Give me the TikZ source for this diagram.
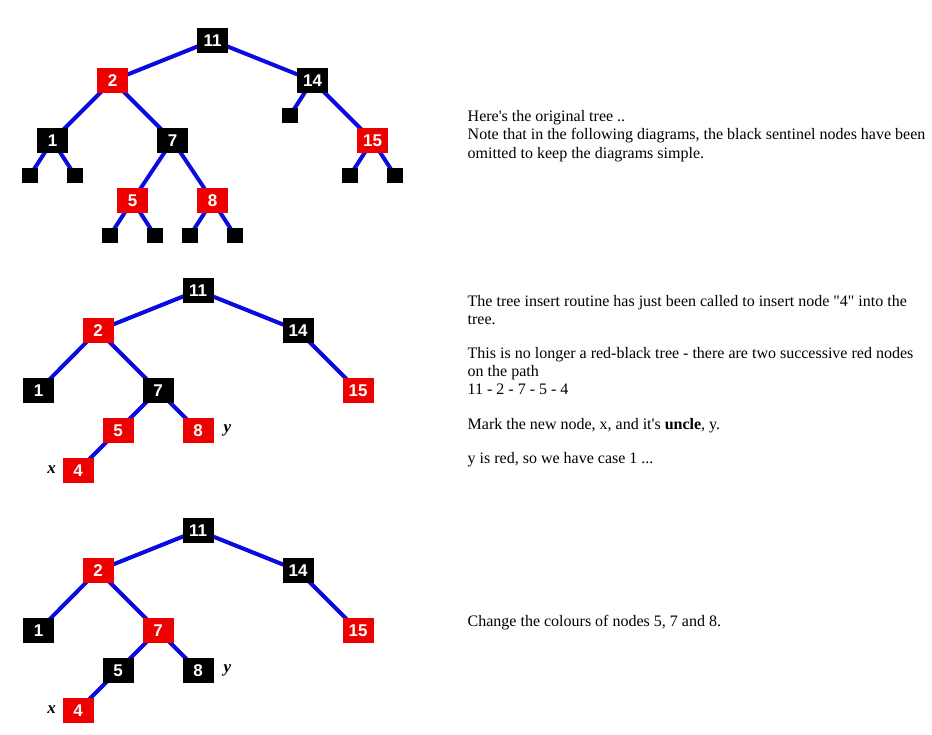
\documentclass[tikz,border=0pt]{standalone}
\usepackage{fontspec}
\setmainfont{Liberation Serif}[Ligatures=TeXOff]
\newfontfamily\numfont{Liberation Sans}
\usetikzlibrary{backgrounds}
\definecolor{rbred}{RGB}{238,0,0}
\definecolor{edgeblue}{RGB}{10,10,225}
\tikzset{
  bn/.style={rectangle, fill=black, text=white, minimum width=31pt, minimum height=25pt, inner sep=0pt, font=\numfont\bfseries\fontsize{17}{17}\selectfont},
  rn/.style={bn, fill=rbred},
  sent/.style={rectangle, fill=black, minimum width=16pt, minimum height=15pt, inner sep=0pt},
  edge/.style={draw=edgeblue, line width=4pt},
  txt/.style={anchor=base west, inner sep=0pt, font=\fontsize{16}{18}\selectfont},
  lbl/.style={anchor=base, inner sep=0pt, font=\bfseries\itshape\fontsize{17}{17}\selectfont}
}
\begin{document}
\begin{tikzpicture}[x=1pt,y=-1pt]
\useasboundingbox (0,0) rectangle (932,735);
% ---------- Tree 1 ----------
\node[bn] (a11) at (212.5,40.5) {11};
\node[rn] (a2)  at (112.5,80.5) {2};
\node[bn] (a14) at (312.5,80.5) {14};
\node[bn] (a1)  at (52.5,140.5) {1};
\node[bn] (a7)  at (172.5,140.5) {7};
\node[rn] (a15) at (372.5,140.5) {15};
\node[rn] (a5)  at (132.5,200.5) {5};
\node[rn] (a8)  at (212.5,200.5) {8};
\node[sent] (s1) at (30,175.5) {};
\node[sent] (s2) at (75,175.5) {};
\node[sent] (s3) at (290,115.5) {};
\node[sent] (s4) at (350,175.5) {};
\node[sent] (s5) at (395,175.5) {};
\node[sent] (s6) at (110,235.5) {};
\node[sent] (s7) at (155,235.5) {};
\node[sent] (s8) at (190,235.5) {};
\node[sent] (s9) at (235,235.5) {};
\begin{pgfonlayer}{background}
\draw[edge] (a11.center) -- (a2.center);
\draw[edge] (a11.center) -- (a14.center);
\draw[edge] (a2.center) -- (a1.center);
\draw[edge] (a2.center) -- (a7.center);
\draw[edge] (a14.center) -- (s3.center);
\draw[edge] (a14.center) -- (a15.center);
\draw[edge] (a1.center) -- (s1.center);
\draw[edge] (a1.center) -- (s2.center);
\draw[edge] (a7.center) -- (a5.center);
\draw[edge] (a7.center) -- (a8.center);
\draw[edge] (a15.center) -- (s4.center);
\draw[edge] (a15.center) -- (s5.center);
\draw[edge] (a5.center) -- (s6.center);
\draw[edge] (a5.center) -- (s7.center);
\draw[edge] (a8.center) -- (s8.center);
\draw[edge] (a8.center) -- (s9.center);
\end{pgfonlayer}
% ---------- Tree 2 ----------
\node[bn] (b11) at (198,290.5) {11};
\node[rn] (b2)  at (98,330.5) {2};
\node[bn] (b14) at (298,330.5) {14};
\node[bn] (b1)  at (38.5,390.5) {1};
\node[bn] (b7)  at (158,390.5) {7};
\node[rn] (b15) at (358,390.5) {15};
\node[rn] (b5)  at (118,430.5) {5};
\node[rn] (b8)  at (198,430.5) {8};
\node[rn] (b4)  at (78,470.5) {4};
\node[lbl] (by) at (227.5,432) {y};
\node[lbl] (bx) at (51.5,473) {x};
\begin{pgfonlayer}{background}
\draw[edge] (b11.center) -- (b2.center);
\draw[edge] (b11.center) -- (b14.center);
\draw[edge] (b2.center) -- (b1.center);
\draw[edge] (b2.center) -- (b7.center);
\draw[edge] (b14.center) -- (b15.center);
\draw[edge] (b7.center) -- (b5.center);
\draw[edge] (b7.center) -- (b8.center);
\draw[edge] (b5.center) -- (b4.center);
\end{pgfonlayer}
% ---------- Tree 3 ----------
\node[bn] (c11) at (198,530.5) {11};
\node[rn] (c2)  at (98,570.5) {2};
\node[bn] (c14) at (298,570.5) {14};
\node[bn] (c1)  at (38.5,630.5) {1};
\node[rn] (c7)  at (158,630.5) {7};
\node[rn] (c15) at (358,630.5) {15};
\node[bn] (c5)  at (118,670.5) {5};
\node[bn] (c8)  at (198,670.5) {8};
\node[rn] (c4)  at (78,710.5) {4};
\node[lbl] (cy) at (227.5,672) {y};
\node[lbl] (cx) at (51.5,713) {x};
\begin{pgfonlayer}{background}
\draw[edge] (c11.center) -- (c2.center);
\draw[edge] (c11.center) -- (c14.center);
\draw[edge] (c2.center) -- (c1.center);
\draw[edge] (c2.center) -- (c7.center);
\draw[edge] (c14.center) -- (c15.center);
\draw[edge] (c7.center) -- (c5.center);
\draw[edge] (c7.center) -- (c8.center);
\draw[edge] (c5.center) -- (c4.center);
\end{pgfonlayer}
% ---------- Texts ----------
\node[txt] (t1) at (467.5,121.7) {Here's the original tree ..};
\node[txt] (t2) at (467.5,140) {Note that in the following diagrams, the black sentinel nodes have been};
\node[txt] (t3) at (467.5,158.3) {omitted to keep the diagrams simple.};
\node[txt] (u1) at (467.5,306.7) {The tree insert routine has just been called to insert node "4" into the};
\node[txt] (u2) at (467.5,324.3) {tree.};
\node[txt] (u3) at (467.5,359) {This is no longer a red-black tree - there are two successive red nodes};
\node[txt] (u4) at (467.5,376.7) {on the path};
\node[txt] (u5) at (467.5,395) {11 - 2 - 7 - 5 - 4};
\node[txt] (u6) at (467.5,429) {Mark the new node, x, and it's \textbf{uncle}, y.};
\node[txt] (u7) at (467.5,463) {y is red, so we have case 1 ...};
\node[txt] (v1) at (467.5,626) {Change the colours of nodes 5, 7 and 8.};
\end{tikzpicture}
\end{document}
